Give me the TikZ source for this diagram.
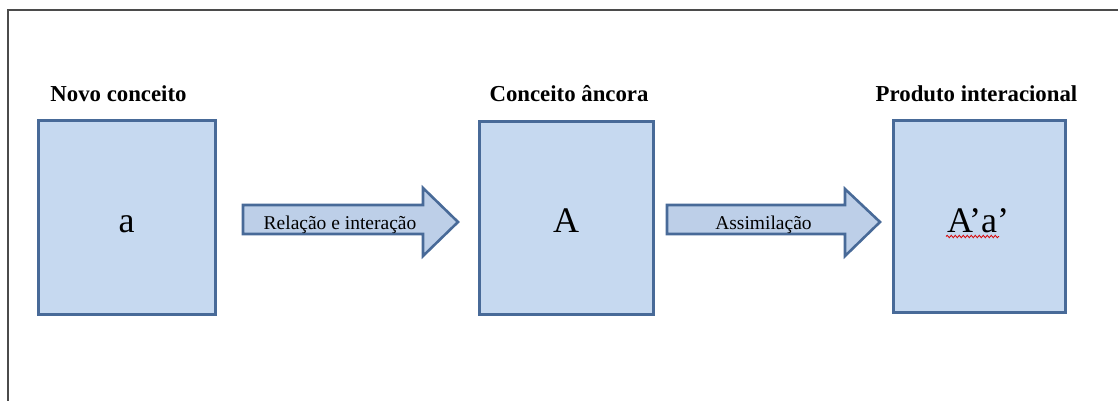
\documentclass[tikz,border=0pt]{standalone}
\usepackage{fontspec}
\setmainfont{Liberation Serif}
\usetikzlibrary{decorations.pathmorphing}
\definecolor{boxfill}{RGB}{198,217,240}
\definecolor{boxline}{RGB}{72,106,152}
\definecolor{arrowfill}{RGB}{189,207,232}
\definecolor{framegray}{RGB}{75,75,75}
\tikzset{
  concept/.style={draw=boxline, line width=3pt, fill=boxfill},
  blockarrow/.style={draw=boxline, line width=2.6pt, fill=arrowfill, line join=miter},
  heading/.style={font=\fontsize{22.8}{25}\selectfont\bfseries, anchor=base},
  letter/.style={font=\fontsize{36}{40}\selectfont, anchor=base},
  arrowlabel/.style={font=\fontsize{19.5}{22}\selectfont, anchor=base},
  spellmark/.style={draw=red!85!black, line width=0.8pt,
    decorate, decoration={snake, amplitude=1.2pt, segment length=4pt}}
}
\begin{document}
\begin{tikzpicture}[x=1pt, y=-1pt]
  \useasboundingbox (0,0) rectangle (1118,401);
  % outer frame (top and left edges)
  \draw[framegray, line width=2.2pt] (8,401) -- (8,10) -- (1118,10);

  % concept boxes
  \draw[concept] (38,121) rectangle (215,314);
  \draw[concept] (479,122) rectangle (653,314);
  \draw[concept] (893,121) rectangle (1065,312);

  % box headings
  \node[heading] (h1) at (118.5,102) {Novo conceito};
  \node[heading] (h2) at (569,102) {Conceito âncora};
  \node[heading] (h3) at (976.5,102) {Produto interacional};

  % box contents
  \node[letter] (a) at (126.5,232) {a};
  \node[letter] (A) at (566,232) {A};
  \node[letter] (Aa) at (978,232) {A’a’};
  \draw[spellmark] (946,236.5) -- (999,236.5);

  % block arrows
  \draw[blockarrow] (243,205) -- (423,205) -- (423,188) -- (458,222)
    -- (423,256) -- (423,234) -- (243,234) -- cycle;
  \draw[blockarrow] (667,205) -- (845,205) -- (845,189) -- (880,222)
    -- (845,256) -- (845,234) -- (667,234) -- cycle;
  \node[arrowlabel] (r1) at (340,229) {Relação e interação};
  \node[arrowlabel] (r2) at (763.5,229.5) {Assimilação};
\end{tikzpicture}
\end{document}
